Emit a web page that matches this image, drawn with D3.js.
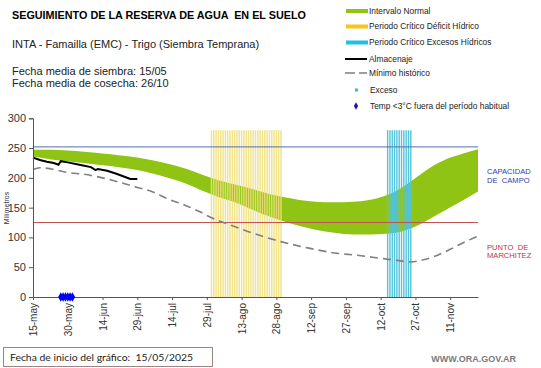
<!DOCTYPE html>
<html lang="es">
<meta charset="UTF-8">
<title>Seguimiento de la reserva de agua en el suelo</title>
<style>
body { margin: 0; background: #fff; }
svg text { font-family: "Liberation Sans", Arial, sans-serif; }
</style>
<script src="https://cdn.jsdelivr.net/npm/d3@7"></script>
<body>
<div id="chart"></div>
<script>

// days counted from 15-may (chart start date)
var tickDays = [0, 15, 30, 45, 60, 75, 90, 105, 120, 135, 150, 165, 180];
var tickLabels = ["15-may", "30-may", "14-jun", "29-jun", "14-jul", "29-jul", "13-ago",
                  "28-ago", "12-sep", "27-sep", "12-oct", "27-oct", "11-nov"];
var yTicks = [0, 50, 100, 150, 200, 250, 300];

// intervalo normal (green band)
var bandDays  = [0, 8, 15, 22, 30, 37, 45, 52, 60, 67, 74, 80, 88, 95, 102, 108, 115, 122, 130, 138, 145, 152, 158, 163, 168, 173, 178, 185, 192];
var bandUpper = [247, 247, 246, 244, 241, 238, 234, 229, 222, 214, 204, 196, 188, 181, 173, 168, 163, 160, 159, 160, 163, 170, 181, 194, 208, 221, 231, 240, 248];
var bandLower = [236, 231, 228, 225, 221, 218, 213, 207, 198, 189, 177, 168, 158, 146, 135, 127, 119, 113, 108, 105, 105, 106, 109, 115, 124, 135, 146, 161, 177];

// minimo historico (dashed)
var minDays   = [0, 3, 8, 15, 22, 30, 37, 45, 52, 58, 65, 72, 77, 85, 95, 107, 119, 130, 140, 150, 158, 163, 168, 173, 180, 186, 192];
var minValues = [214, 217, 215, 209, 206, 200, 193, 184, 176, 165, 155, 143, 133, 121, 107, 93, 82, 74, 70, 65, 61, 59, 62, 68, 80, 92, 102];

// almacenaje (black)
var storeDays   = [0, 3, 6, 9, 11, 12, 15, 20, 25, 27, 28, 32, 36, 40, 42, 45];
var storeValues = [234, 230, 227, 225, 222, 228, 226, 222, 218, 213, 215, 212, 207, 201, 198, 198];

// periodo critico deficit hidrico / excesos hidricos (one bar per day)
var deficitDays = [77, 78, 79, 80, 81, 82, 83, 84, 85, 86, 87, 88, 89, 90, 91, 92, 93, 94, 95, 96,
                   97, 98, 99, 100, 101, 102, 103, 104, 105, 106, 107];
var excessDays = [153, 154, 155, 156, 157, 158, 159, 160, 161, 162, 163];
var criticalTop = 280;

// temp < 3 C fuera del periodo habitual
var frostDays = [12, 13, 14, 15, 16, 17];

var capacidadCampo = 252;
var puntoMarchitez = 125;

var legendLabels = ["Intervalo Normal", "Periodo Crítico Déficit Hídrico", "Periodo Crítico Excesos Hídricos",
                    "Almacenaje", "Mínimo histórico", "Exceso", "Temp <3°C fuera del período habitual"];

var W = 541, H = 368;
var svg = d3.select("#chart").append("svg")
    .attr("width", W)
    .attr("height", H);

var x = d3.scaleLinear().domain([0, 192]).range([33, 478]);
var y = d3.scaleLinear().domain([0, 300]).range([297, 118.3]);

// green band
var area = d3.area()
    .x(function(d, i) { return x(bandDays[i]); })
    .y0(function(d, i) { return y(bandLower[i]); })
    .y1(function(d, i) { return y(bandUpper[i]); })
    .curve(d3.curveMonotoneX);
svg.append("path")
    .datum(bandUpper)
    .attr("d", area)
    .style("fill", "#8fc414");

// critical periods as thin daily bars
svg.selectAll(".deficit")
    .data(deficitDays)
    .enter()
    .append("line")
      .attr("x1", function(d) { return x(d); })
      .attr("x2", function(d) { return x(d); })
      .attr("y1", y(0))
      .attr("y2", y(criticalTop))
      .style("stroke", "#efe07a")
      .style("stroke-width", 1.5)
      .style("opacity", 0.85);

svg.selectAll(".excess")
    .data(excessDays)
    .enter()
    .append("line")
      .attr("x1", function(d) { return x(d); })
      .attr("x2", function(d) { return x(d); })
      .attr("y1", y(0))
      .attr("y2", y(criticalTop))
      .style("stroke", "#52c4dc")
      .style("stroke-width", 1.4);

// reference lines
svg.append("line")
    .attr("x1", x(0)).attr("x2", x(192))
    .attr("y1", y(capacidadCampo)).attr("y2", y(capacidadCampo))
    .style("stroke", "#4f6fb3").style("stroke-width", 1);
svg.append("line")
    .attr("x1", x(0)).attr("x2", x(192))
    .attr("y1", y(puntoMarchitez)).attr("y2", y(puntoMarchitez))
    .style("stroke", "#c0504d").style("stroke-width", 1);

// minimo historico
var minLine = d3.line()
    .x(function(d, i) { return x(minDays[i]); })
    .y(function(d) { return y(d); })
    .curve(d3.curveMonotoneX);
svg.append("path")
    .datum(minValues)
    .attr("d", minLine)
    .style("fill", "none")
    .style("stroke", "#808080")
    .style("stroke-width", 1.6)
    .style("stroke-dasharray", "8,5");

// almacenaje
var storeLine = d3.line()
    .x(function(d, i) { return x(storeDays[i]); })
    .y(function(d) { return y(d); });
svg.append("path")
    .datum(storeValues)
    .attr("d", storeLine)
    .style("fill", "none")
    .style("stroke", "#000")
    .style("stroke-width", 2);

// axes
var yAxis = svg.append("g")
    .attr("transform", "translate(" + x(0) + ",0)")
    .call(d3.axisLeft(y).tickValues(yTicks).tickSize(4).tickPadding(3));
yAxis.select(".domain").style("stroke", "#555");
yAxis.selectAll(".tick line").style("stroke", "#555");
yAxis.selectAll("text").style("font-size", "11px").style("fill", "#333")
    .style("font-family", "'Liberation Sans', Arial, sans-serif");

var xAxis = svg.append("g")
    .attr("transform", "translate(0," + y(0) + ")")
    .call(d3.axisBottom(x).tickValues(tickDays).tickSize(3).tickSizeOuter(0)
          .tickFormat(function(d, i) { return tickLabels[i]; }));
xAxis.select(".domain").style("stroke", "#555");
xAxis.selectAll(".tick line").style("stroke", "#555");
xAxis.selectAll("text")
    .attr("transform", "rotate(-90)")
    .attr("x", -6)
    .attr("y", 0)
    .attr("dy", "0.35em")
    .style("text-anchor", "end")
    .style("font-size", "10px")
    .style("fill", "#333")
    .style("font-family", "'Liberation Sans', Arial, sans-serif");

// frost markers
svg.selectAll(".frost")
    .data(frostDays)
    .enter()
    .append("path")
      .attr("d", d3.symbol().type(d3.symbolDiamond).size(26))
      .attr("transform", function(d) { return "translate(" + x(d) + "," + y(0) + ")"; })
      .style("fill", "#0000ff");

// axis title
svg.append("text")
    .attr("transform", "translate(9,208) rotate(-90)")
    .style("text-anchor", "middle")
    .style("font-size", "7px")
    .style("fill", "#333")
    .text("Milímetros");

// right labels
svg.append("text").attr("x", 487).attr("y", 173.5).text("CAPACIDAD")
    .style("font-size", "7.6px").style("fill", "#3a3aa8");
svg.append("text").attr("x", 487).attr("y", 182.5).text("DE  CAMPO")
    .style("font-size", "7.6px").style("fill", "#3a3aa8").style("white-space", "pre");
svg.append("text").attr("x", 487).attr("y", 249.5).text("PUNTO  DE")
    .style("font-size", "7.6px").style("fill", "#c03535").style("white-space", "pre");
svg.append("text").attr("x", 487).attr("y", 258).text("MARCHITEZ")
    .style("font-size", "7.6px").style("fill", "#c03535");

// header texts
svg.append("text").attr("x", 12).attr("y", 19)
    .text("SEGUIMIENTO DE LA RESERVA DE AGUA  EN EL SUELO")
    .style("font-size", "10.8px").style("font-weight", "bold").style("fill", "#000").style("white-space", "pre");
svg.append("text").attr("x", 12).attr("y", 48)
    .text("INTA - Famailla (EMC) - Trigo (Siembra Temprana)")
    .style("font-size", "11px").style("fill", "#222");
svg.append("text").attr("x", 12).attr("y", 75)
    .text("Fecha media de siembra: 15/05")
    .style("font-size", "11px").style("fill", "#222");
svg.append("text").attr("x", 12).attr("y", 87)
    .text("Fecha media de cosecha: 26/10")
    .style("font-size", "11px").style("fill", "#222");

// handmade legend
var legendY = [11, 26.5, 42.5, 59, 73, 90, 106];
var lg = svg.append("g");
lg.append("rect").attr("x", 346).attr("y", legendY[0] - 2).attr("width", 22).attr("height", 4).style("fill", "#8fc414");
lg.append("rect").attr("x", 346).attr("y", legendY[1] - 2).attr("width", 22).attr("height", 4).style("fill", "#f5c518");
lg.append("rect").attr("x", 346).attr("y", legendY[2] - 2).attr("width", 22).attr("height", 4).style("fill", "#1ec0e8");
lg.append("line").attr("x1", 345).attr("x2", 367).attr("y1", legendY[3]).attr("y2", legendY[3])
    .style("stroke", "#000").style("stroke-width", 2);
lg.append("line").attr("x1", 345).attr("x2", 367).attr("y1", legendY[4]).attr("y2", legendY[4])
    .style("stroke", "#808080").style("stroke-width", 1.6).style("stroke-dasharray", "10,4");
lg.append("rect").attr("x", 355).attr("y", legendY[5] - 1.5).attr("width", 3).attr("height", 3).style("fill", "#33bbdd");
lg.append("path").attr("d", d3.symbol().type(d3.symbolDiamond).size(16))
    .attr("transform", "translate(356," + legendY[6] + ")").style("fill", "#1a1aa0");
lg.selectAll("text")
    .data(legendLabels)
    .enter()
    .append("text")
      .attr("x", function(d, i) { return i < 5 ? 369 : 370; })
      .attr("y", function(d, i) { return legendY[i]; })
      .attr("dy", "0.35em")
      .text(function(d) { return d; })
      .style("font-size", "8.4px")
      .style("fill", "#222");

// footer
svg.append("rect").attr("x", 3.5).attr("y", 347.5).attr("width", 209).attr("height", 19)
    .style("fill", "#fff").style("stroke", "#9a8585").style("stroke-width", 1);
svg.append("text").attr("x", 10).attr("y", 361)
    .text("Fecha de inicio del gráfico:  15/05/2025")
    .style("font-family", "Lato, sans-serif").style("font-size", "10.4px").style("fill", "#222")
    .style("white-space", "pre");
svg.append("text").attr("x", 516).attr("y", 362)
    .attr("text-anchor", "end")
    .text("WWW.ORA.GOV.AR")
    .style("font-size", "9px").style("font-weight", "bold").style("fill", "#7a7a7a");

</script>
</body>
</html>
